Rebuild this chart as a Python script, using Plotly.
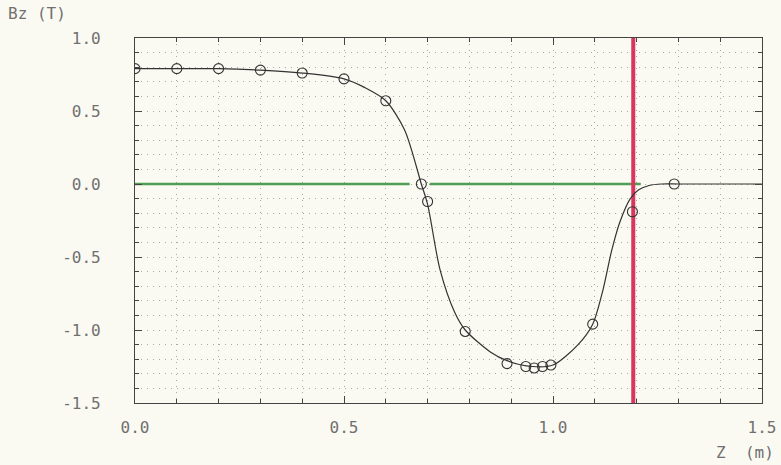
import plotly.graph_objects as go

# measured points (circles)
pt_z = [0.0, 0.1, 0.2, 0.3, 0.4, 0.5, 0.6, 0.685, 0.70, 0.79, 0.89, 0.935, 0.955, 0.975, 0.995, 1.095, 1.19, 1.29]
pt_bz = [0.79, 0.79, 0.79, 0.78, 0.76, 0.72, 0.57, 0.0, -0.12, -1.01, -1.23, -1.25, -1.26, -1.25, -1.24, -0.96, -0.19, 0.0]

# smooth fitted curve
cv_z = [0.0, 0.1, 0.2, 0.3, 0.4, 0.5, 0.55, 0.6, 0.645, 0.685, 0.70, 0.73, 0.765, 0.79, 0.85, 0.89, 0.95, 1.0, 1.06,
        1.095, 1.12, 1.14, 1.16, 1.185, 1.205, 1.23, 1.26, 1.3, 1.4, 1.5]
cv_bz = [0.79, 0.79, 0.79, 0.78, 0.76, 0.72, 0.66, 0.57, 0.37, 0.0, -0.14, -0.59, -0.88, -1.0, -1.15, -1.21, -1.25, -1.24, -1.1,
         -0.96, -0.72, -0.46, -0.26, -0.1, -0.04, -0.01, 0.0, 0.0, 0.0, 0.0]

# green zero-line segments
g1_z = [0.0, 0.657]
g2_z = [0.705, 1.21]
g_bz = [0.0, 0.0]

# red vertical marker
red_z = 1.192
y_range = [-1.5, 1.0]

ytickvals = [1.0, 0.5, 0.0, -0.5, -1.0, -1.5]
yticktext = ["1.0", "0.5", "0.0", "-0.5", "-1.0", "-1.5"]
xtickvals = [0.0, 0.5, 1.0, 1.5]
xticktext = ["0.0", "0.5", "1.0", "1.5"]

txt = "#707070"
font = dict(family="DejaVu Sans Mono", size=16, color=txt)
gdash = "1px,5px"
gcol = "#a8a8a8"

fig = go.Figure()
fig.add_trace(go.Scatter(x=g1_z, y=g_bz, mode="lines", line=dict(color="#4f9e55", width=2.5), hoverinfo="skip"))
fig.add_trace(go.Scatter(x=g2_z, y=g_bz, mode="lines", line=dict(color="#4f9e55", width=2.5), hoverinfo="skip"))
fig.add_trace(go.Scatter(x=[red_z, red_z], y=y_range, mode="lines", line=dict(color="#d9365e", width=4), hoverinfo="skip"))
fig.add_trace(go.Scatter(x=cv_z, y=cv_bz, mode="lines", line=dict(color="#333333", width=1.2, shape="spline", smoothing=0.8)))
fig.add_trace(go.Scatter(x=pt_z, y=pt_bz, mode="markers",
                         marker=dict(symbol="circle-open", size=10, color="#333333", line=dict(width=1.1))))

axis_common = dict(showline=True, linecolor="#444444", linewidth=1.2, mirror="ticks",
                   ticks="inside", ticklen=7, tickcolor="#444444", zeroline=False,
                   showgrid=True, gridcolor=gcol, griddash=gdash, gridwidth=1,
                   tickfont=font, automargin=False, ticklabeloverflow="allow",
                   minor=dict(dtick=0.1, ticks="inside", ticklen=4, tickcolor="#444444",
                              showgrid=True, gridcolor=gcol, griddash=gdash, gridwidth=1))

fig.update_xaxes(range=[0, 1.5], tickvals=xtickvals, ticktext=xticktext, ticklabelstandoff=10, **axis_common)
fig.update_yaxes(range=y_range, tickvals=ytickvals, ticktext=yticktext, ticklabelstandoff=30, **axis_common)

fig.add_annotation(text="Bz (T)", xref="paper", yref="paper", x=-0.205, y=1.035, xanchor="left", yanchor="bottom",
                   showarrow=False, font=font)
fig.add_annotation(text="Z  (m)", xref="paper", yref="paper", x=1.022, y=-0.105, xanchor="right", yanchor="top",
                   showarrow=False, font=font)

fig.update_layout(width=781, height=465, margin=dict(l=135, r=19, t=38, b=62),
                  paper_bgcolor="#fbfaf2", plot_bgcolor="#fbfaf2", showlegend=False)

fig.write_html("out.html")
